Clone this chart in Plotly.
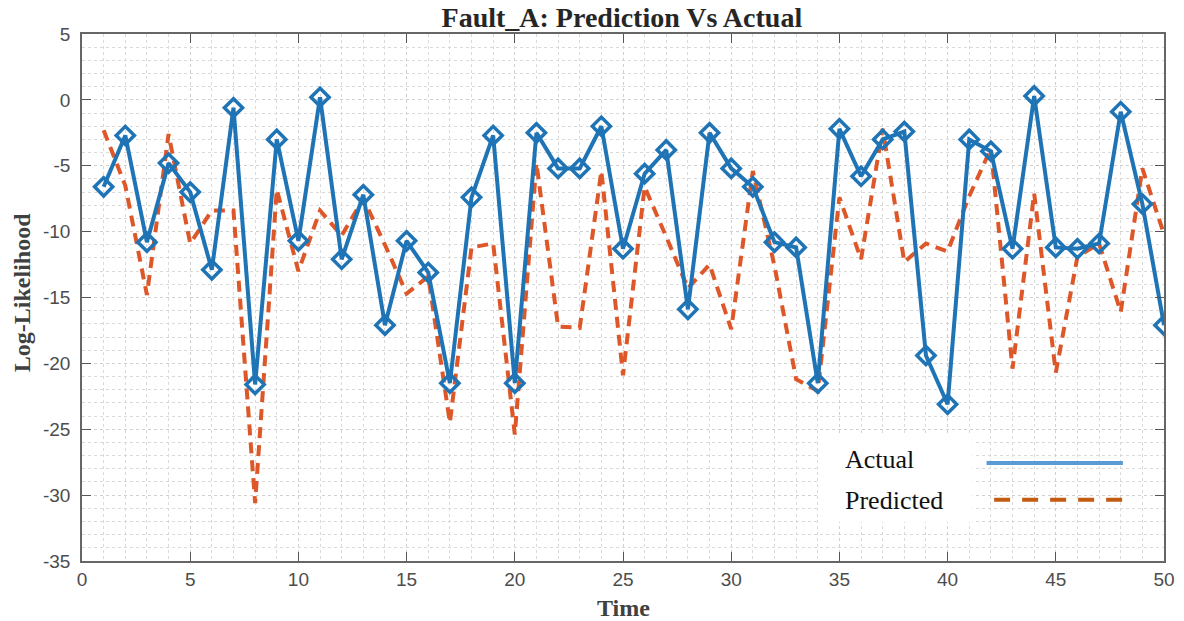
import plotly.graph_objects as go

time = list(range(1, 51))
actual = [-6.6, -2.7, -10.8, -4.8, -7.0, -12.9, -0.6, -21.6, -3.0, -10.7,
          0.2, -12.1, -7.2, -17.1, -10.7, -13.1, -21.5, -7.4, -2.7, -21.5,
          -2.5, -5.2, -5.2, -2.0, -11.3, -5.6, -3.8, -15.9, -2.5, -5.2,
          -6.6, -10.8, -11.2, -21.5, -2.2, -5.8, -3.0, -2.4, -19.4, -23.1,
          -3.0, -3.9, -11.3, 0.3, -11.2, -11.3, -10.9, -0.9, -7.9, -17.1]
predicted = [-2.3, -6.5, -14.8, -2.6, -10.9, -8.4, -8.4, -30.6, -6.8, -13.0,
             -8.4, -10.3, -7.5, -11.0, -14.7, -13.4, -24.5, -11.2, -10.9, -25.4,
             -4.8, -17.2, -17.3, -5.4, -20.9, -6.6, -10.4, -14.3, -12.5, -17.4,
             -5.4, -12.6, -21.2, -22.1, -7.4, -12.1, -2.2, -12.3, -10.9, -11.5,
             -7.3, -3.7, -20.4, -7.1, -20.7, -11.9, -10.9, -16.1, -5.2, -10.2]

x_ticks = [0, 5, 10, 15, 20, 25, 30, 35, 40, 45, 50]
y_ticks = [5, 0, -5, -10, -15, -20, -25, -30, -35]
y_tick_text = ["5", "0", "-5", "-10", "-15", "-20", "-25", "-30", "-35"]
legend_labels = ["Actual", "Predicted"]

BLUE = "#1F74B6"
RED = "#DE5728"
SERIF = "Liberation Serif, Times New Roman, serif"
SANS = "Liberation Sans, Arial, sans-serif"

fig = go.Figure()
fig.add_trace(go.Scatter(
    x=time, y=predicted, mode="lines", name=legend_labels[1],
    line=dict(color=RED, width=4, dash="11px,7px"), showlegend=False))
fig.add_trace(go.Scatter(
    x=time, y=actual, mode="lines+markers", name=legend_labels[0],
    line=dict(color=BLUE, width=4),
    marker=dict(symbol="diamond-open", size=14, color=BLUE, line=dict(width=3.5, color=BLUE)),
    showlegend=False))

axis_common = dict(
    showline=True, linecolor="#666666", linewidth=1.5, mirror="ticks",
    ticks="inside", ticklen=9, tickcolor="#555555", tickwidth=1.2,
    showgrid=True, gridcolor="#d0d0d0", griddash="3px,3px", gridwidth=1,
    tickfont=dict(family=SANS, size=19, color="#4d4d4d"),
    zeroline=False, automargin=False,
)

fig.update_xaxes(range=[0, 50], tickvals=x_ticks, ticktext=[str(v) for v in x_ticks],
                 minor=dict(dtick=1, showgrid=True, gridcolor="#dadada", griddash="3px,3px", ticks=""),
                 **axis_common)
fig.update_yaxes(range=[-35, 5], tickvals=y_ticks, ticktext=y_tick_text, ticklabelstandoff=6,
                 minor=dict(dtick=1, showgrid=True, gridcolor="#dadada", griddash="3px,3px", ticks=""),
                 **axis_common)

# custom legend (text left, line sample right)
fig.add_shape(type="rect", xref="paper", yref="paper", x0=0.682, x1=0.823, y0=0.074, y1=0.239,
              fillcolor="white", line=dict(width=0), layer="above")
fig.add_annotation(xref="paper", yref="paper", x=0.703, y=0.192, xanchor="left", yanchor="middle",
                   text=legend_labels[0], showarrow=False, font=dict(family=SERIF, size=26, color="#111111"))
fig.add_annotation(xref="paper", yref="paper", x=0.703, y=0.114, xanchor="left", yanchor="middle",
                   text=legend_labels[1], showarrow=False, font=dict(family=SERIF, size=26, color="#111111"))
fig.add_shape(type="line", xref="paper", yref="paper", x0=0.836, x1=0.962, y0=0.186, y1=0.186,
              line=dict(color="#5B9BD5", width=4), layer="above")
fig.add_shape(type="line", xref="paper", yref="paper", x0=0.843, x1=0.962, y0=0.116, y1=0.116,
              line=dict(color="#C55A11", width=4, dash="16px,12px"), layer="above")

# axis titles
fig.add_annotation(xref="paper", yref="paper", x=0.5, y=-0.089, xanchor="center", yanchor="middle",
                   text="<b>Time</b>", showarrow=False, font=dict(family=SERIF, size=24, color="#404040"))
fig.add_annotation(xref="paper", yref="paper", x=-0.0555, y=0.51, xanchor="center", yanchor="middle",
                   text="<b>Log-Likelihood</b>", textangle=-90, showarrow=False,
                   font=dict(family=SERIF, size=24, color="#404040"))

# page body has an 8px margin: size the figure so the plot area lands where the reference has it
fig.update_layout(
    width=1176, height=613,
    margin=dict(l=74, r=20, t=26, b=60, autoexpand=False),
    paper_bgcolor="white", plot_bgcolor="white",
    title=dict(text="<b>Fault_A: Prediction Vs Actual</b>", x=0.522, xanchor="center",
               y=0.9845, yref="container", yanchor="middle",
               font=dict(family=SERIF, size=28, color="#262626")),
    showlegend=False,
)

fig.write_html("out.html")
